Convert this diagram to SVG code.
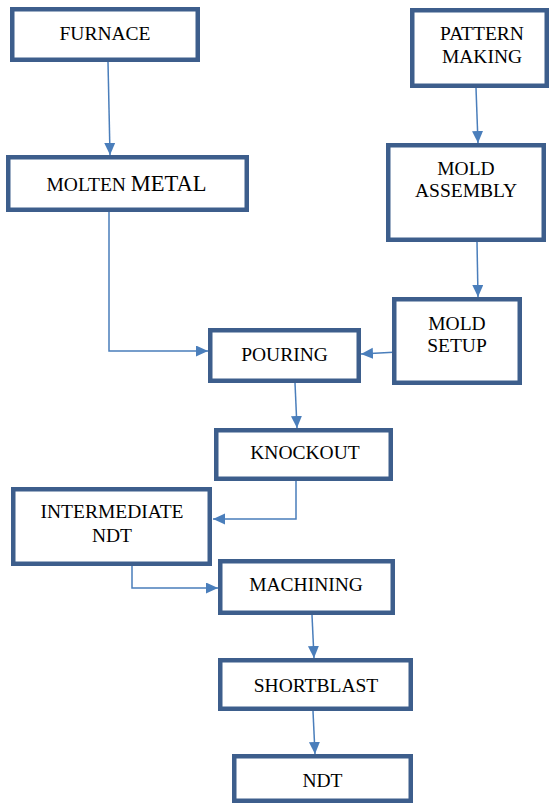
<svg xmlns="http://www.w3.org/2000/svg" width="550" height="805" viewBox="0 0 550 805">
<style>
.box{fill:#fff;stroke:#3D5E8C;stroke-width:4.5}
.c{fill:none;stroke:#4A7EBB;stroke-width:1.5}
</style>
<defs>
<marker id="ah" markerUnits="userSpaceOnUse" markerWidth="14" markerHeight="12" refX="12" refY="5.5" orient="auto">
<path d="M0,0 L12,5.5 L0,11 Z" fill="#4A7EBB"/>
</marker>
</defs>
<rect width="550" height="805" fill="#fff"/>
<g id="connectors">
<path class="c" d="M108,62 L110,155" marker-end="url(#ah)"/>
<path class="c" d="M476,88 L478,143" marker-end="url(#ah)"/>
<path class="c" d="M477,242 L478,297" marker-end="url(#ah)"/>
<path class="c" d="M398,352 L361,354" marker-end="url(#ah)"/>
<path class="c" d="M109,212 L109,351 L208,351" marker-end="url(#ah)"/>
<path class="c" d="M295,383 L297,428" marker-end="url(#ah)"/>
<path class="c" d="M296,481 L296,519 L213,519" marker-end="url(#ah)"/>
<path class="c" d="M132,566 L132,588 L218,588" marker-end="url(#ah)"/>
<path class="c" d="M312,615 L314,658" marker-end="url(#ah)"/>
<path class="c" d="M313,711 L315,754" marker-end="url(#ah)"/>
</g>
<g font-family="Liberation Serif, DejaVu Serif, serif" font-size="19.5" fill="#000" text-anchor="middle">
<g id="furnace">
<rect class="box" x="12.25" y="9.25" width="185.5" height="50.5"/>
<text x="105" y="40">FURNACE</text>
</g>
<g id="molten-metal">
<rect class="box" x="8.25" y="157.25" width="238.5" height="52.5"/>
<text x="126.5" y="190.5">MOLTEN <tspan font-size="22.5">METAL</tspan></text>
</g>
<g id="pattern-making">
<rect class="box" x="412.25" y="10.25" width="134.5" height="75.5"/>
<text x="482" y="40">PATTERN</text>
<text x="482" y="63">MAKING</text>
</g>
<g id="mold-assembly">
<rect class="box" x="388.25" y="145.25" width="155.5" height="94.5"/>
<text x="466" y="175">MOLD</text>
<text x="466" y="197">ASSEMBLY</text>
</g>
<g id="mold-setup">
<rect class="box" x="394.25" y="299.25" width="125.5" height="83.5"/>
<text x="457" y="330">MOLD</text>
<text x="457" y="352">SETUP</text>
</g>
<g id="pouring">
<rect class="box" x="210.25" y="330.25" width="148.5" height="50.5"/>
<text x="284.5" y="361">POURING</text>
</g>
<g id="knockout">
<rect class="box" x="216.25" y="430.25" width="174.5" height="48.5"/>
<text x="305" y="459">KNOCKOUT</text>
</g>
<g id="intermediate-ndt">
<rect class="box" x="13.25" y="489.25" width="196.5" height="74.5"/>
<text x="112" y="518">INTERMEDIATE</text>
<text x="112" y="541.5">NDT</text>
</g>
<g id="machining">
<rect class="box" x="220.25" y="561.25" width="172.5" height="51.5"/>
<text x="306" y="591">MACHINING</text>
</g>
<g id="shortblast">
<rect class="box" x="220.25" y="660.25" width="190.5" height="48.5"/>
<text x="316" y="692">SHORTBLAST</text>
</g>
<g id="ndt">
<rect class="box" x="234.25" y="756.25" width="176.5" height="44.5"/>
<text x="322.5" y="787">NDT</text>
</g>
</g>
</svg>
